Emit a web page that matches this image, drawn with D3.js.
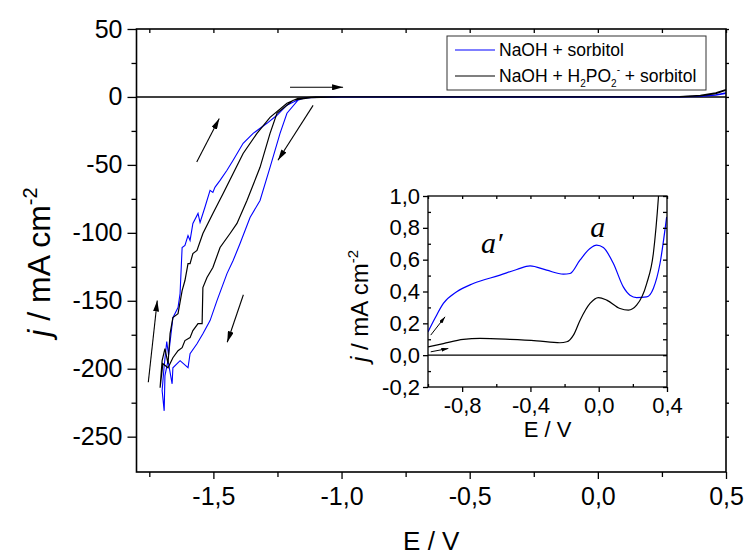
<!DOCTYPE html>
<html>
<head>
<meta charset="utf-8">
<script src="https://cdn.jsdelivr.net/npm/d3@7"></script>
<style>
body { margin: 0; background: #fff; }
svg { display: block; font-family: "Liberation Sans", Arial, sans-serif; }
</style>
</head>
<body>
<div id="chart"></div>
<script>
// cyclic voltammograms, E in V and j in mA cm-2
// sweep starts at 0.5 V, goes down to -1.7 V and comes back
var sorbitolMain = [
	[0.50, 2.5], [0.46, 1.2], [0.40, 0.3], [0.30, 0.0], [-1.00, 0.0], [-1.10, -0.3], [-1.15, -1.0],
	[-1.17, -2.4], [-1.213, -12.0], [-1.240, -26.8], [-1.279, -51.8], [-1.318, -76.2], [-1.357, -88.7],
	[-1.396, -107.9], [-1.423, -120.4], [-1.447, -130.0], [-1.486, -149.9], [-1.513, -164.6],
	[-1.541, -174.2], [-1.564, -181.6], [-1.591, -189.0], [-1.599, -199.3], [-1.630, -194.1],
	[-1.658, -199.3], [-1.661, -211.1], [-1.677, -194.1], [-1.689, -205.0], [-1.692, -231.0],
	[-1.700, -216.0], [-1.693, -200.0], [-1.682, -180.0], [-1.675, -190.0], [-1.658, -162.4],
	[-1.638, -155.0], [-1.630, -144.7], [-1.622, -110.8], [-1.611, -109.3], [-1.599, -102.0],
	[-1.591, -105.6], [-1.580, -93.1], [-1.560, -85.7], [-1.552, -92.4], [-1.533, -81.2],
	[-1.513, -68.7], [-1.502, -70.2], [-1.494, -66.5], [-1.474, -61.4], [-1.447, -54.0],
	[-1.423, -46.6], [-1.384, -34.1], [-1.345, -26.8], [-1.291, -19.4], [-1.252, -13.5],
	[-1.213, -6.1], [-1.174, -2.4], [-1.14, -0.5], [-1.00, 0.0], [0.30, 0.1], [0.40, 0.6],
	[0.46, 1.5], [0.50, 3.0]
];

var hypoMain = [
	[0.50, 5.0], [0.46, 2.5], [0.40, 0.8], [0.32, 0.1], [-1.00, 0.0], [-1.12, -0.5], [-1.189, -2.4],
	[-1.252, -12.0], [-1.279, -26.8], [-1.318, -51.8], [-1.369, -76.2], [-1.408, -93.1],
	[-1.435, -100.5], [-1.474, -110.8], [-1.502, -125.5], [-1.525, -132.9], [-1.541, -140.3],
	[-1.544, -166.8], [-1.560, -166.8], [-1.580, -171.9], [-1.591, -177.1], [-1.611, -179.3],
	[-1.622, -184.5], [-1.638, -186.7], [-1.658, -191.9], [-1.677, -199.3], [-1.697, -196.3],
	[-1.708, -214.0], [-1.700, -194.1], [-1.689, -185.2], [-1.677, -196.3], [-1.669, -174.2],
	[-1.658, -162.4], [-1.638, -159.5], [-1.622, -142.5], [-1.611, -135.1], [-1.599, -122.6],
	[-1.591, -122.6], [-1.580, -115.2], [-1.564, -113.0], [-1.541, -100.5], [-1.502, -85.7],
	[-1.462, -71.0], [-1.423, -56.3], [-1.384, -41.6], [-1.330, -26.8], [-1.279, -15.0],
	[-1.213, -4.6], [-1.17, -1.0], [-1.10, 0.0], [0.32, 0.2], [0.40, 1.2], [0.46, 3.0], [0.50, 5.5]
];

// inset: anodic sweeps from -1.0 V
var sorbitolInset = [
	[-1.0, 0.146], [-0.96, 0.23], [-0.91, 0.325], [-0.832, 0.398], [-0.735, 0.450], [-0.578, 0.503],
	[-0.480, 0.538], [-0.402, 0.561], [-0.305, 0.534], [-0.207, 0.509], [-0.168, 0.513],
	[-0.110, 0.597], [-0.051, 0.670], [-0.012, 0.691], [0.027, 0.676], [0.086, 0.576],
	[0.144, 0.429], [0.183, 0.377], [0.222, 0.362], [0.281, 0.366], [0.320, 0.419],
	[0.359, 0.576], [0.398, 0.869]
];

var hypoInset = [
	[-1.0, 0.052], [-0.910, 0.073], [-0.793, 0.099], [-0.695, 0.105], [-0.520, 0.099],
	[-0.363, 0.090], [-0.227, 0.078], [-0.187, 0.084], [-0.148, 0.126], [-0.109, 0.220],
	[-0.051, 0.325], [-0.002, 0.362], [0.047, 0.346], [0.125, 0.293], [0.174, 0.283],
	[0.222, 0.314], [0.281, 0.450], [0.320, 0.639], [0.350, 0.995], [0.365, 1.25]
];

var mainXTicks = [-1.5, -1.0, -0.5, 0.0, 0.5],
	mainXMinor = [-1.75, -1.25, -0.75, -0.25, 0.25],
	mainYTicks = [50, 0, -50, -100, -150, -200, -250],
	mainYMinor = [25, -25, -75, -125, -175, -225],
	insetXTicks = [-0.8, -0.4, 0.0, 0.4],
	insetXMinor = [-1.0, -0.6, -0.2, 0.2],
	insetYTicks = [1.0, 0.8, 0.6, 0.4, 0.2, 0.0, -0.2],
	insetYMinor = [0.9, 0.7, 0.5, 0.3, 0.1, -0.1];

// arrows showing the sweep direction, [from, to] in data units
var mainArrows = [
	[[-1.201, 7.1], [-0.994, 7.1]],
	[[-1.111, -6.2], [-1.248, -46.6]],
	[[-1.565, -47.9], [-1.477, -15.9]],
	[[-1.383, -145.6], [-1.446, -180.5]],
	[[-1.754, -210.0], [-1.719, -149.8]]
];
var insetArrows = [
	[[-0.984, 0.126], [-0.900, 0.241]],
	[[-0.984, 0.021], [-0.881, 0.042]]
];

var BLUE = "#0000ff",
	BLACK = "#000";

var width = 750,
	height = 557;

var locale = d3.formatLocale({ decimal: ",", thousands: ".", grouping: [3], currency: ["", ""], minus: "-" });
var fmt1 = locale.format(".1f"),
	fmt0 = locale.format("d");

var svg = d3.select("#chart").append("svg")
	.attr("width", width)
	.attr("height", height);

var defs = svg.append("defs");

// filled arrow heads, a big one and a small one for the inset
function arrowMarker(id, len, half) {
	defs.append("marker")
		.attr("id", id)
		.attr("markerUnits", "userSpaceOnUse")
		.attr("viewBox", "0 0 " + len + " " + (half * 2))
		.attr("markerWidth", len)
		.attr("markerHeight", half * 2)
		.attr("refX", len)
		.attr("refY", half)
		.attr("orient", "auto")
		.append("path")
		.attr("d", "M0,0L" + len + "," + half + "L0," + (half * 2) + "Z")
		.style("fill", "#000");
}
arrowMarker("head", 11, 3);
arrowMarker("head-small", 7, 2);

// ---------- main plot ----------
var main = { left: 136.5, right: 726, top: 29, bottom: 472 };

var x = d3.scaleLinear().domain([-1.8, 0.5]).range([main.left, main.right]);
var y = d3.scaleLinear().domain([-276, 50]).range([main.bottom, main.top]);

var line = d3.line()
	.x(function(d) { return x(d[0]); })
	.y(function(d) { return y(d[1]); });

var g = svg.append("g");

// zero line
g.append("line")
	.attr("x1", main.left).attr("x2", main.right)
	.attr("y1", y(0)).attr("y2", y(0))
	.style("stroke", "#000").style("stroke-width", 1.6);

g.append("path").datum(sorbitolMain)
	.attr("d", line)
	.style("fill", "none").style("stroke", BLUE).style("stroke-width", 1.1);

g.append("path").datum(hypoMain)
	.attr("d", line)
	.style("fill", "none").style("stroke", BLACK).style("stroke-width", 1.2);

// ticks, left and bottom outside, top inside
function tickAxis(axis, sel) {
	sel.call(axis);
	sel.select(".domain").remove();
	sel.selectAll("line").style("stroke", "#000").style("stroke-width", 1.3);
}

tickAxis(d3.axisLeft(y).tickValues(mainYTicks).tickSize(9).tickPadding(5).tickFormat(fmt0),
	g.append("g").attr("transform", "translate(" + main.left + ",0)"));
tickAxis(d3.axisLeft(y).tickValues(mainYMinor).tickSize(5).tickFormat(""),
	g.append("g").attr("transform", "translate(" + main.left + ",0)"));
tickAxis(d3.axisRight(y).tickValues(mainYTicks.concat(mainYMinor)).tickSize(3).tickFormat(""),
	g.append("g").attr("transform", "translate(" + main.right + ",0)"));
tickAxis(d3.axisBottom(x).tickValues(mainXTicks).tickSize(7).tickPadding(8).tickFormat(fmt1),
	g.append("g").attr("transform", "translate(0," + main.bottom + ")"));
tickAxis(d3.axisBottom(x).tickValues(mainXMinor).tickSize(5).tickFormat(""),
	g.append("g").attr("transform", "translate(0," + main.bottom + ")"));
tickAxis(d3.axisBottom(x).tickValues(mainXTicks.concat(mainXMinor)).tickSize(4).tickFormat(""),
	g.append("g").attr("transform", "translate(0," + main.top + ")"));

g.selectAll(".tick text")
	.style("font-size", "25px")
	.style("font-family", "'Liberation Sans', Arial, sans-serif")
	.style("fill", "#000");

g.append("rect")
	.attr("x", main.left).attr("y", main.top)
	.attr("width", main.right - main.left)
	.attr("height", main.bottom - main.top)
	.style("fill", "none").style("stroke", "#000").style("stroke-width", 1.6);

// axis titles
g.append("text")
	.attr("x", (main.left + main.right) / 2)
	.attr("y", 550)
	.style("text-anchor", "middle")
	.style("font-size", "26px")
	.text("E / V");

var ytitle = g.append("text")
	.attr("transform", "translate(50,262) rotate(-90)")
	.style("text-anchor", "middle")
	.style("font-size", "32px");
ytitle.append("tspan").style("font-style", "italic").text("j");
ytitle.append("tspan").text(" / mA cm");
ytitle.append("tspan").attr("dy", -13).style("font-size", "20px").text("-2");

mainArrows.forEach(function(a) {
	g.append("line")
		.attr("x1", x(a[0][0])).attr("y1", y(a[0][1]))
		.attr("x2", x(a[1][0])).attr("y2", y(a[1][1]))
		.attr("marker-end", "url(#head)")
		.style("stroke", "#000").style("stroke-width", 1.1);
});

// legend
var legend = g.append("g").attr("transform", "translate(447,36)");
legend.append("rect")
	.attr("width", 259).attr("height", 54)
	.style("fill", "#fff").style("stroke", "#333").style("stroke-width", 1);

var legendRows = [{ color: BLUE, y: 14 }, { color: BLACK, y: 40 }];
legend.selectAll(".swatch")
	.data(legendRows)
	.enter()
	.append("line")
	.attr("class", "swatch")
	.attr("x1", 8).attr("x2", 48)
	.attr("y1", function(d) { return d.y; })
	.attr("y2", function(d) { return d.y; })
	.style("stroke", function(d) { return d.color; })
	.style("stroke-width", 1.2);

legend.append("text")
	.attr("x", 52).attr("y", 20)
	.style("font-size", "17.5px")
	.text("NaOH + sorbitol");

var leg2 = legend.append("text")
	.attr("x", 52).attr("y", 46)
	.style("font-size", "17.5px");
leg2.append("tspan").text("NaOH + H");
leg2.append("tspan").attr("dy", 5).style("font-size", "10px").text("2");
leg2.append("tspan").attr("dy", -5).text("PO");
leg2.append("tspan").attr("dy", 5).style("font-size", "10px").text("2");
leg2.append("tspan").attr("dy", -14).style("font-size", "10px").text("-");
leg2.append("tspan").attr("dy", 9).text(" + sorbitol");

// ---------- inset ----------
var inset = { left: 428, right: 667, top: 196, bottom: 387 };

var xi = d3.scaleLinear().domain([-1.0, 0.4]).range([inset.left, inset.right]);
var yi = d3.scaleLinear().domain([-0.2, 1.0]).range([inset.bottom, inset.top]);

var lineInset = d3.line()
	.curve(d3.curveMonotoneX)
	.x(function(d) { return xi(d[0]); })
	.y(function(d) { return yi(d[1]); });

var gi = svg.append("g");

defs.append("clipPath").attr("id", "inset-clip")
	.append("rect")
	.attr("x", inset.left).attr("y", inset.top)
	.attr("width", inset.right - inset.left)
	.attr("height", inset.bottom - inset.top);

gi.append("rect")
	.attr("x", inset.left).attr("y", inset.top)
	.attr("width", inset.right - inset.left)
	.attr("height", inset.bottom - inset.top)
	.style("fill", "#fff");

gi.append("line")
	.attr("x1", inset.left).attr("x2", inset.right)
	.attr("y1", yi(0)).attr("y2", yi(0))
	.style("stroke", "#000").style("stroke-width", 1.2);

var curves = gi.append("g").attr("clip-path", "url(#inset-clip)");
curves.append("path").datum(sorbitolInset)
	.attr("d", lineInset)
	.style("fill", "none").style("stroke", BLUE).style("stroke-width", 1.2);
curves.append("path").datum(hypoInset)
	.attr("d", lineInset)
	.style("fill", "none").style("stroke", BLACK).style("stroke-width", 1.2);

tickAxis(d3.axisLeft(yi).tickValues(insetYTicks).tickSize(5).tickPadding(3).tickFormat(fmt1),
	gi.append("g").attr("transform", "translate(" + inset.left + ",0)"));
tickAxis(d3.axisRight(yi).tickValues(insetYMinor).tickSize(3).tickFormat(""),
	gi.append("g").attr("transform", "translate(" + inset.left + ",0)"));
tickAxis(d3.axisLeft(yi).tickValues(insetYTicks.concat(insetYMinor)).tickSize(4).tickFormat(""),
	gi.append("g").attr("transform", "translate(" + inset.right + ",0)"));
tickAxis(d3.axisBottom(xi).tickValues(insetXTicks).tickSize(5).tickPadding(5).tickFormat(fmt1),
	gi.append("g").attr("transform", "translate(0," + inset.bottom + ")"));
tickAxis(d3.axisTop(xi).tickValues(insetXMinor).tickSize(3).tickFormat(""),
	gi.append("g").attr("transform", "translate(0," + inset.bottom + ")"));
tickAxis(d3.axisBottom(xi).tickValues(insetXTicks.concat(insetXMinor)).tickSize(3).tickFormat(""),
	gi.append("g").attr("transform", "translate(0," + inset.top + ")"));

gi.selectAll(".tick text")
	.style("font-size", "22px")
	.style("font-family", "'Liberation Sans', Arial, sans-serif")
	.style("fill", "#000");

gi.append("rect")
	.attr("x", inset.left).attr("y", inset.top)
	.attr("width", inset.right - inset.left)
	.attr("height", inset.bottom - inset.top)
	.style("fill", "none").style("stroke", "#000").style("stroke-width", 1.3);

gi.append("text")
	.attr("x", (inset.left + inset.right) / 2)
	.attr("y", 437)
	.style("text-anchor", "middle")
	.style("font-size", "22px")
	.text("E / V");

var ytitleInset = gi.append("text")
	.attr("transform", "translate(368,306) rotate(-90)")
	.style("text-anchor", "middle")
	.style("font-size", "24px");
ytitleInset.append("tspan").style("font-style", "italic").text("j");
ytitleInset.append("tspan").text(" / mA cm");
ytitleInset.append("tspan").attr("dy", -10).style("font-size", "15px").text("-2");

// peak labels
gi.append("text")
	.attr("x", xi(-0.69)).attr("y", 253)
	.style("font-family", "'Liberation Serif', 'Times New Roman', serif")
	.style("font-style", "italic")
	.style("font-size", "30px")
	.text("a\u2032");
gi.append("text")
	.attr("x", xi(-0.05)).attr("y", 237)
	.style("font-family", "'Liberation Serif', 'Times New Roman', serif")
	.style("font-style", "italic")
	.style("font-size", "30px")
	.text("a");

insetArrows.forEach(function(a) {
	gi.append("line")
		.attr("x1", xi(a[0][0])).attr("y1", yi(a[0][1]))
		.attr("x2", xi(a[1][0])).attr("y2", yi(a[1][1]))
		.attr("marker-end", "url(#head-small)")
		.style("stroke", "#000").style("stroke-width", 1);
});
</script>
</body>
</html>
